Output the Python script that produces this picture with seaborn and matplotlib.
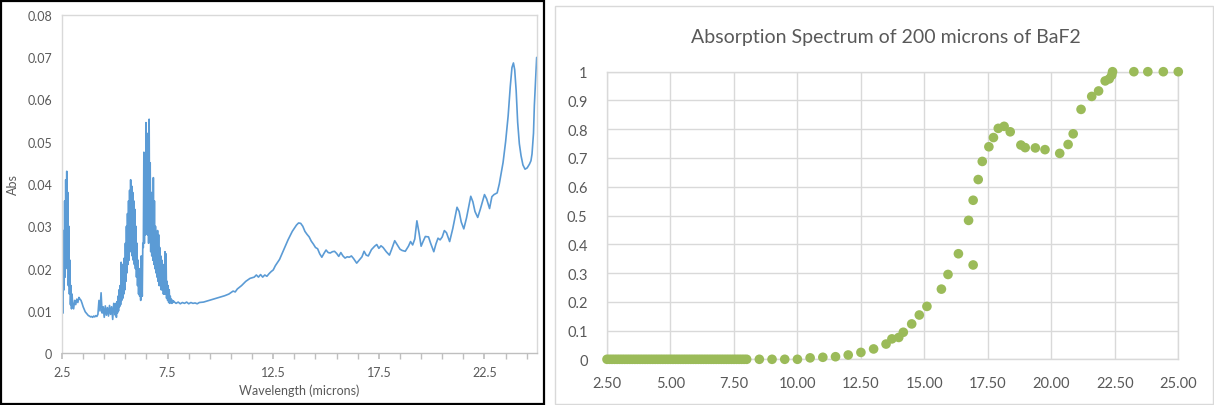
import numpy as np
import pandas as pd
import matplotlib
matplotlib.use("Agg")
import matplotlib.pyplot as plt
from matplotlib.patches import Rectangle
import seaborn as sns

sns.set_theme(style="white")
plt.rcParams['font.family'] = ['Lato', 'DejaVu Sans']

# ---------------- Left panel: measured Abs spectrum ----------------
# noisy segment 1: 2.5 .. 2.975 step 0.025
seg1_start, seg1_step = 2.5, 0.025
seg1_abs = [0.0080, 0.0120, 0.0095, 0.0290, 0.0150, 0.0360, 0.0180, 0.0410, 0.0250, 0.0430,
            0.0200, 0.0380, 0.0160, 0.0300, 0.0140, 0.0220, 0.0115, 0.0160, 0.0105, 0.0140]
# segment 2: 3.0 .. 4.95 step 0.05
seg2_start, seg2_step = 3.0, 0.05
seg2_abs = [0.0120, 0.0105, 0.0125, 0.0115, 0.0128, 0.0120, 0.0132, 0.0128, 0.0125, 0.0118,
            0.0110, 0.0104, 0.0098, 0.0095, 0.0092, 0.0089, 0.0088, 0.0086, 0.0087, 0.0085,
            0.0088, 0.0086, 0.0089, 0.0087, 0.0092, 0.0125, 0.0100, 0.0143, 0.0095, 0.0110,
            0.0085, 0.0112, 0.0090, 0.0108, 0.0088, 0.0113, 0.0092, 0.0110, 0.0080, 0.0118]
# noisy segment 3: 5.0 .. 7.775 step 0.025
seg3_start, seg3_step = 5.0, 0.025
seg3_abs = [0.0105, 0.0090, 0.0118, 0.0085, 0.0122, 0.0095, 0.0135, 0.0100, 0.0150, 0.0110,
            0.0160, 0.0115, 0.0215, 0.0125, 0.0210, 0.0130, 0.0200, 0.0140, 0.0225, 0.0150,
            0.0260, 0.0170, 0.0300, 0.0190, 0.0330, 0.0210, 0.0360, 0.0220, 0.0385, 0.0240,
            0.0410, 0.0250, 0.0395, 0.0230, 0.0380, 0.0220, 0.0360, 0.0210, 0.0340, 0.0200,
            0.0300, 0.0180, 0.0260, 0.0160, 0.0220, 0.0140, 0.0200, 0.0135, 0.0170, 0.0125,
            0.0230, 0.0180, 0.0135, 0.0260, 0.0250, 0.0475, 0.0260, 0.0470, 0.0280, 0.0545,
            0.0300, 0.0500, 0.0280, 0.0520, 0.0260, 0.0553, 0.0270, 0.0450, 0.0240, 0.0380,
            0.0230, 0.0350, 0.0220, 0.0415, 0.0210, 0.0360, 0.0200, 0.0300, 0.0190, 0.0280,
            0.0180, 0.0290, 0.0170, 0.0280, 0.0160, 0.0250, 0.0160, 0.0230, 0.0150, 0.0220,
            0.0150, 0.0210, 0.0140, 0.0200, 0.0140, 0.0240, 0.0140, 0.0235, 0.0130, 0.0170,
            0.0125, 0.0160, 0.0120, 0.0150, 0.0118, 0.0135, 0.0120, 0.0128, 0.0118, 0.0125,
            0.0120, 0.0124]
# smooth segment 4
seg4_wl = [7.8, 7.9, 8.0, 8.1, 8.2, 8.3, 8.4, 8.5, 8.6, 8.7, 8.8, 8.9, 9.0, 9.2, 9.4, 9.6, 9.8,
           10.0, 10.2, 10.4, 10.6, 10.7, 10.8, 11.0, 11.2, 11.4, 11.6, 11.7, 11.8, 11.9, 12.0,
           12.1, 12.2, 12.3, 12.4, 12.5, 12.6, 12.8, 13.0, 13.2, 13.4, 13.6, 13.7, 13.8, 13.9,
           14.0, 14.1, 14.2, 14.3, 14.4, 14.5, 14.6, 14.7, 14.8, 14.9, 15.0, 15.1, 15.2, 15.3,
           15.4, 15.5, 15.6, 15.7, 15.8, 15.9, 16.0, 16.1, 16.2, 16.3, 16.45, 16.6, 16.7, 16.8,
           16.9, 17.0, 17.15, 17.3, 17.4, 17.5, 17.6, 17.7, 17.85, 18.0, 18.1, 18.25, 18.35,
           18.5, 18.6, 18.75, 18.9, 19.0, 19.1, 19.2, 19.3, 19.4, 19.5, 19.6, 19.7, 19.85,
           19.95, 20.1, 20.2, 20.3, 20.4, 20.5, 20.6, 20.7, 20.85, 21.0, 21.2, 21.3, 21.4,
           21.52, 21.65, 21.85, 21.95, 22.05, 22.18, 22.3, 22.5, 22.6, 22.74, 22.85, 22.95,
           23.1, 23.2, 23.38, 23.5, 23.62, 23.72, 23.8, 23.87, 23.93, 24.0, 24.07, 24.15,
           24.23, 24.32, 24.42, 24.52, 24.63, 24.7, 24.75, 24.82, 24.86, 24.92, 24.97]
seg4_abs = [0.0122, 0.0118, 0.0121, 0.0117, 0.0120, 0.0118, 0.0121, 0.0117, 0.0120, 0.0118,
            0.0119, 0.0117, 0.0120, 0.0121, 0.0124, 0.0127, 0.0130, 0.0133, 0.0136, 0.0140,
            0.0147, 0.0145, 0.0152, 0.0160, 0.0170, 0.0177, 0.0180, 0.0185, 0.0180, 0.0186,
            0.0180, 0.0185, 0.0182, 0.0188, 0.0193, 0.0197, 0.0207, 0.0222, 0.0245, 0.0268,
            0.0288, 0.0303, 0.0308, 0.0307, 0.0300, 0.0288, 0.0281, 0.0275, 0.0265, 0.0258,
            0.0250, 0.0247, 0.0235, 0.0227, 0.0236, 0.0244, 0.0238, 0.0237, 0.0240, 0.0241,
            0.0236, 0.0229, 0.0238, 0.0230, 0.0225, 0.0228, 0.0227, 0.0230, 0.0224, 0.0213,
            0.0222, 0.0228, 0.0241, 0.0232, 0.0230, 0.0245, 0.0253, 0.0257, 0.0248, 0.0254,
            0.0250, 0.0240, 0.0232, 0.0245, 0.0266, 0.0258, 0.0246, 0.0243, 0.0241, 0.0253,
            0.0264, 0.0256, 0.0270, 0.0313, 0.0285, 0.0253, 0.0265, 0.0276, 0.0275, 0.0260,
            0.0240, 0.0258, 0.0272, 0.0268, 0.0275, 0.0290, 0.0285, 0.0264, 0.0295, 0.0345,
            0.0335, 0.0310, 0.0294, 0.0320, 0.0371, 0.0358, 0.0335, 0.0321, 0.0340, 0.0375,
            0.0365, 0.0342, 0.0370, 0.0375, 0.0379, 0.0400, 0.0451, 0.0500, 0.0561, 0.0630,
            0.0675, 0.0686, 0.0670, 0.0620, 0.0546, 0.0495, 0.0467, 0.0445, 0.0435, 0.0438,
            0.0447, 0.0455, 0.0471, 0.0520, 0.0585, 0.0650, 0.0699]

left_xticks = [2.5, 7.5, 12.5, 17.5, 22.5]
left_yticks = [0, 0.01, 0.02, 0.03, 0.04, 0.05, 0.06, 0.07, 0.08]

# ---------------- Right panel: absorption (0..1) ----------------
flat_wl = [2.5, 2.6, 2.7, 2.8, 2.9, 3.0, 3.1, 3.2, 3.3, 3.4, 3.5, 3.6, 3.7, 3.8, 3.9, 4.0,
           4.1, 4.2, 4.3, 4.4, 4.5, 4.6, 4.7, 4.8, 4.9, 5.0, 5.1, 5.2, 5.3, 5.4, 5.5, 5.6,
           5.7, 5.8, 5.9, 6.0, 6.1, 6.2, 6.3, 6.4, 6.5, 6.6, 6.7, 6.8, 6.9, 7.0, 7.1, 7.2,
           7.3, 7.4, 7.5, 7.6, 7.7, 7.8, 7.9, 8.0]
flat_abs = [0.0] * len(flat_wl)
pts_wl = [8.5, 9.0, 9.5, 10.0, 10.5, 11.0, 11.5, 12.0, 12.5, 13.0, 13.49, 13.72, 13.99, 14.17,
          14.5, 14.8, 15.1, 15.67, 15.93, 16.34, 16.74, 16.92, 16.92, 17.12, 17.28, 17.54,
          17.72, 17.91, 18.14, 18.38, 18.8, 18.97, 19.37, 19.75, 20.33, 20.66, 20.86, 21.17,
          21.59, 21.86, 22.12, 22.28, 22.38, 22.41, 23.25, 23.8, 24.41, 25.0]
pts_abs = [0.0, 0.0, 0.0, 0.0, 0.005, 0.007, 0.009, 0.015, 0.024, 0.036, 0.053, 0.071, 0.076,
           0.094, 0.123, 0.154, 0.184, 0.244, 0.295, 0.367, 0.483, 0.328, 0.553, 0.625,
           0.688, 0.739, 0.771, 0.803, 0.81, 0.791, 0.745, 0.736, 0.735, 0.729, 0.716, 0.747,
           0.784, 0.869, 0.914, 0.933, 0.968, 0.975, 0.988, 1.0, 1.0, 1.0, 1.0, 1.0]
right_xticks = [2.5, 5.0, 7.5, 10.0, 12.5, 15.0, 17.5, 20.0, 22.5, 25.0]
right_yticks = [0, 0.1, 0.2, 0.3, 0.4, 0.5, 0.6, 0.7, 0.8, 0.9, 1.0]
right_title = "Absorption Spectrum of 200 microns of BaF2"

# ---------------- build data frames ----------------
wl = np.concatenate([
    np.round(seg1_start + seg1_step * np.arange(len(seg1_abs)), 4),
    np.round(seg2_start + seg2_step * np.arange(len(seg2_abs)), 4),
    np.round(seg3_start + seg3_step * np.arange(len(seg3_abs)), 4),
    np.array(seg4_wl)])
ab = np.concatenate([seg1_abs, seg2_abs, seg3_abs, seg4_abs])
df_left = pd.DataFrame({"wl": wl, "abs": ab})
df_right = pd.DataFrame({"wl": flat_wl + pts_wl, "abs": flat_abs + pts_abs})

W, H = 1214, 406
fig = plt.figure(figsize=(W / 100, H / 100), dpi=100)
fig.patch.set_facecolor("white")

txt = "#595959"
grid = "#d9d9d9"

# panel frames
fig.add_artist(Rectangle((1.5 / W, 1.5 / H), 542.5 / W, 402.5 / H, transform=fig.transFigure,
                         fill=False, edgecolor="black", linewidth=1.6))
fig.add_artist(Rectangle((555 / W, 1.5 / H), 657.5 / W, 397.5 / H, transform=fig.transFigure,
                         fill=False, edgecolor=grid, linewidth=1.0))

# ---- left axes ----
axL = fig.add_axes([62 / W, (H - 354.3) / H, 475.3 / W, 338.6 / H])
sns.lineplot(data=df_left, x="wl", y="abs", ax=axL, color="#5b9bd5", linewidth=1.2,
             estimator=None, sort=False)
axL.set_xlim(2.5, 25.0)
axL.set_ylim(0, 0.08)
axL.set_xticks(left_xticks)
axL.set_xticklabels([f"{v:g}" for v in left_xticks])
axL.set_xticks(np.arange(3.5, 25.0, 1.0), minor=True)
axL.set_yticks(left_yticks)
axL.set_yticklabels([f"{v:g}" for v in left_yticks])
for s in axL.spines.values():
    s.set_color(grid)
    s.set_linewidth(1.0)
axL.spines["bottom"].set_color("#bfbfbf")
axL.tick_params(axis="x", which="both", direction="out", length=4, color="#bfbfbf",
                labelsize=9, labelcolor=txt, pad=5, bottom=True)
axL.tick_params(axis="y", length=0, labelsize=9, labelcolor=txt, pad=7)
axL.set_xlabel("Wavelength (microns)", fontsize=9, color=txt, labelpad=4)
axL.set_ylabel("Abs", fontsize=9, color=txt, labelpad=6)
axL.grid(False)

# ---- right axes ----
axR = fig.add_axes([607 / W, (H - 360.3) / H, 571.3 / W, 287.6 / H])
sns.scatterplot(data=df_right, x="wl", y="abs", ax=axR, color="#9bbb59", s=48,
                edgecolor="none", linewidth=0, clip_on=False, zorder=3)
axR.set_xlim(2.5, 25.0)
axR.set_ylim(0, 1.0)
axR.set_xticks(right_xticks)
axR.set_xticklabels([f"{v:.2f}" for v in right_xticks])
axR.set_yticks(right_yticks)
axR.set_yticklabels([f"{v:g}" for v in right_yticks])
axR.grid(True, color=grid, linewidth=1.0)
axR.set_axisbelow(True)
for s in axR.spines.values():
    s.set_visible(True)
    s.set_color(grid)
    s.set_linewidth(1.0)
axR.tick_params(axis="both", length=0, labelsize=10.5, labelcolor=txt)
axR.tick_params(axis="x", pad=12)
axR.tick_params(axis="y", pad=14)
axR.set_xlabel("")
axR.set_ylabel("")
fig.text(886 / W, 1 - 37 / H, right_title, ha="center", va="center", fontsize=14, color=txt)

fig.savefig("out.png", dpi=100, facecolor="white")
